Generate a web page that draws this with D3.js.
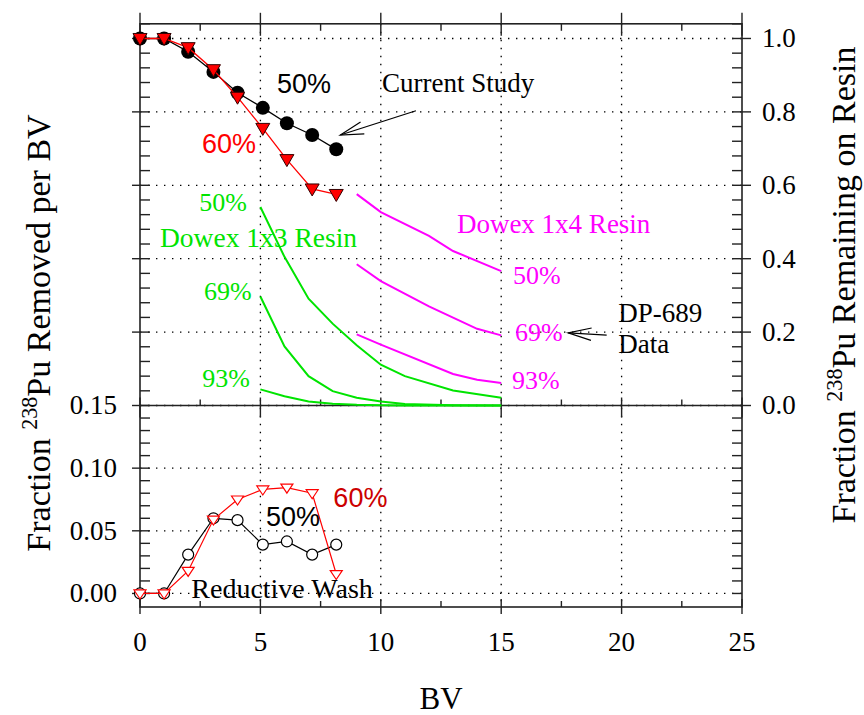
<!DOCTYPE html>
<html>
<head>
<meta charset="utf-8">
<script src="https://cdn.jsdelivr.net/npm/d3@7"></script>
<style>
  body { margin: 0; background: #fff; }
  svg { display: block; }
  text { font-family: "Liberation Serif", "Times New Roman", serif; fill: #000; }
  .sans { font-family: "Liberation Sans", Arial, sans-serif; }
</style>
</head>
<body>
<div id="chart"></div>
<script>
// Dados
const bv = [0, 1, 2, 3.05, 4.05, 5.1, 6.1, 7.15, 8.15];
const remain50 = [1.0, 1.0, 0.964, 0.909, 0.852, 0.811, 0.769, 0.737, 0.698];
const remain60 = [1.0, 1.0, 0.975, 0.915, 0.84, 0.755, 0.67, 0.59, 0.575];
const removed50 = [0.0, 0.0, 0.031, 0.060, 0.0585, 0.039, 0.0415, 0.031, 0.039];
const removed60 = [0.0, 0.0, 0.018, 0.059, 0.075, 0.083, 0.0845, 0.080, 0.0155];

const dowex13BV = [5, 6, 7, 8, 9, 10, 11, 13, 15];
const dowex13_50 = [0.541, 0.405, 0.291, 0.223, 0.164, 0.111, 0.080, 0.041, 0.021];
const dowex13_69 = [0.297, 0.161, 0.080, 0.039, 0.021, 0.011, 0.004, 0.001, 0.0];
const dowex13_93 = [0.044, 0.025, 0.011, 0.005, 0.002, 0.001, 0.0, 0.0, 0.0];

const dowex14_50BV = [9, 10, 12, 13, 15];
const dowex14_50 = [0.576, 0.527, 0.462, 0.421, 0.366];
const dowex14_69BV = [9, 10, 12, 14, 15];
const dowex14_69 = [0.385, 0.339, 0.270, 0.209, 0.191];
const dowex14_93BV = [9, 10, 13, 14, 15];
const dowex14_93 = [0.194, 0.166, 0.086, 0.070, 0.061];

const xTicks = [0, 5, 10, 15, 20, 25];
const rightTicks = [0, 0.2, 0.4, 0.6, 0.8, 1.0];
const leftTicks = [0, 0.05, 0.10, 0.15];

// Configurações
const width = 864, height = 715;
const svg = d3.select('#chart').append('svg')
    .attr('width', width).attr('height', height);

const x = d3.scaleLinear().domain([0, 25]).range([140, 742]);
const yTop = d3.scaleLinear().domain([0, 1.04]).range([405.5, 23.8]);
const yBot = d3.scaleLinear().domain([-0.0108, 0.15]).range([607, 405.5]);

const GREEN = '#00e400', MAGENTA = '#ff00ff', RED = '#ff0000';

// Grade pontilhada
const grid = svg.append('g').attr('stroke', '#000').attr('stroke-width', 1.3)
    .attr('stroke-dasharray', '1.4,6.6');
[5, 10, 15, 20].forEach(v => {
    grid.append('line').attr('x1', x(v)).attr('x2', x(v)).attr('y1', yTop(1.04)).attr('y2', yBot(-0.0108));
});
rightTicks.forEach(v => {
    grid.append('line').attr('x1', x(0)).attr('x2', x(25)).attr('y1', yTop(v)).attr('y2', yTop(v));
});
[0, 0.05, 0.10].forEach(v => {
    grid.append('line').attr('x1', x(0)).attr('x2', x(25)).attr('y1', yBot(v)).attr('y2', yBot(v));
});

// Moldura e divisor
const frame = svg.append('g').attr('stroke', '#222').attr('stroke-width', 1.6).attr('fill', 'none');
frame.append('rect').attr('x', x(0)).attr('y', yTop(1.04))
    .attr('width', x(25) - x(0)).attr('height', yBot(-0.0108) - yTop(1.04));
frame.append('line').attr('x1', x(0)).attr('x2', x(25)).attr('y1', yTop(0)).attr('y2', yTop(0));

// Marcas dos eixos
const ticks = svg.append('g').attr('stroke', '#222').attr('stroke-width', 1.4);
d3.range(0, 25.01, 2.5).forEach(v => {
    const major = v % 5 === 0;
    const X = x(v);
    // base
    ticks.append('line').attr('x1', X).attr('x2', X)
        .attr('y1', yBot(-0.0108) + (major ? 7 : 0)).attr('y2', yBot(-0.0108) - (major ? 8 : 6));
    // topo
    ticks.append('line').attr('x1', X).attr('x2', X)
        .attr('y1', yTop(1.04) - (major ? 11 : 0)).attr('y2', yTop(1.04) + (major ? 12 : 7));
    // divisor
    ticks.append('line').attr('x1', X).attr('x2', X)
        .attr('y1', yTop(0) - (major ? 8 : 6)).attr('y2', yTop(0) + (major ? 12 : 0));
});
d3.range(0, 1.041, 0.04).forEach(v => {
    const major = Math.abs(v * 5 - Math.round(v * 5)) < 1e-6;
    const Y = yTop(v);
    ticks.append('line').attr('x1', x(0) - (major ? 8 : 0)).attr('x2', x(0) + 10).attr('y1', Y).attr('y2', Y);
    ticks.append('line').attr('x1', x(25) - 10).attr('x2', x(25) + (major ? 9 : 0)).attr('y1', Y).attr('y2', Y);
});
d3.range(0, 0.1401, 0.01).forEach(v => {
    const major = Math.abs(v * 20 - Math.round(v * 20)) < 1e-6;
    const Y = yBot(v);
    ticks.append('line').attr('x1', x(0) - (major ? 8 : 0)).attr('x2', x(0) + 10).attr('y1', Y).attr('y2', Y);
    ticks.append('line').attr('x1', x(25) - 10).attr('x2', x(25)).attr('y1', Y).attr('y2', Y);
});

// Rótulos dos eixos
svg.append('g').selectAll('text').data(xTicks).enter().append('text')
    .attr('x', d => x(d)).attr('y', 651).attr('text-anchor', 'middle')
    .attr('font-size', 27).text(d => d);
svg.append('g').selectAll('text').data(rightTicks).enter().append('text')
    .attr('x', 762).attr('y', d => yTop(d)).attr('dy', '0.33em')
    .attr('font-size', 27).text(d => d.toFixed(1));
svg.append('g').selectAll('text').data(leftTicks).enter().append('text')
    .attr('x', 117).attr('y', d => yBot(d)).attr('dy', '0.33em').attr('text-anchor', 'end')
    .attr('font-size', 27).text(d => d.toFixed(2));

svg.append('text').attr('x', x(12.5)).attr('y', 709).attr('text-anchor', 'middle')
    .attr('font-size', 31).text('BV');

function titleY(tx, ty, size, rest) {
    const t = svg.append('text').attr('transform', `translate(${tx},${ty}) rotate(-90)`)
        .attr('text-anchor', 'middle').attr('font-size', size);
    t.append('tspan').text('Fraction ');
    t.append('tspan').attr('font-size', size * 0.65).attr('dy', -13).text('238');
    t.append('tspan').attr('dy', 13).text(rest);
}
titleY(50, 333, 34, 'Pu Removed per BV');
titleY(855, 285, 34, 'Pu Remaining on Resin');

// Linhas
const lineGen = d3.line().x(d => x(d[0]));
function drawLine(xs, ys, yScale, color, w) {
    svg.append('path').datum(xs.map((v, i) => [v, ys[i]]))
        .attr('fill', 'none').attr('stroke', color).attr('stroke-width', w)
        .attr('d', lineGen.y(d => yScale(d[1])));
}
drawLine(dowex13BV, dowex13_50, yTop, GREEN, 2);
drawLine(dowex13BV, dowex13_69, yTop, GREEN, 2);
drawLine(dowex13BV, dowex13_93, yTop, GREEN, 2);
drawLine(dowex14_50BV, dowex14_50, yTop, MAGENTA, 2);
drawLine(dowex14_69BV, dowex14_69, yTop, MAGENTA, 2);
drawLine(dowex14_93BV, dowex14_93, yTop, MAGENTA, 2);

// Estudo atual (painel superior)
drawLine(bv, remain50, yTop, '#000', 1.3);
svg.append('g').selectAll('circle').data(bv).enter().append('circle')
    .attr('cx', d => x(d)).attr('cy', (d, i) => yTop(remain50[i])).attr('r', 7).attr('fill', '#000');
drawLine(bv, remain60, yTop, RED, 1.3);
const triDown = (w, h1, h2) => `M${-w},${-h1}L${w},${-h1}L0,${h2}Z`;
svg.append('g').selectAll('path').data(bv).enter().append('path')
    .attr('transform', (d, i) => `translate(${x(d)},${yTop(remain60[i])})`)
    .attr('d', triDown(7, 5, 7)).attr('fill', RED).attr('stroke', '#300').attr('stroke-width', 1);

// Lavagem redutiva (painel inferior)
drawLine(bv, removed50, yBot, '#000', 1.2);
svg.append('g').selectAll('circle').data(bv).enter().append('circle')
    .attr('cx', d => x(d)).attr('cy', (d, i) => yBot(removed50[i])).attr('r', 5.5)
    .attr('fill', '#fff').attr('stroke', '#000').attr('stroke-width', 1.2);
drawLine(bv, removed60, yBot, RED, 1.2);
svg.append('g').selectAll('path').data(bv).enter().append('path')
    .attr('transform', (d, i) => `translate(${x(d)},${yBot(removed60[i])})`)
    .attr('d', triDown(6, 3.5, 5.5)).attr('fill', '#fff').attr('stroke', RED).attr('stroke-width', 1.2);

// Textos
function label(tx, ty, str, opts) {
    const t = svg.append('text').attr('x', tx).attr('y', ty)
        .attr('font-size', opts.size || 27).attr('text-anchor', opts.anchor || 'start')
        .style('fill', opts.color || '#000').text(str);
    if (opts.sans) t.attr('class', 'sans');
    return t;
}
label(x(5.69), yTop(0.851), '50%', { sans: true });
label(x(2.57), yTop(0.689), '60%', { sans: true, color: RED });
label(x(10.05), yTop(0.855), 'Current Study', {});
label(x(4.44), yTop(0.531), '50%', { anchor: 'end', color: GREEN, size: 26 });
label(x(0.83), yTop(0.433), 'Dowex 1x3 Resin', { color: GREEN, size: 27.5 });
label(x(4.64), yTop(0.287), '69%', { anchor: 'end', color: GREEN, size: 26 });
label(x(4.57), yTop(0.050), '93%', { anchor: 'end', color: GREEN, size: 26 });
label(x(13.16), yTop(0.469), 'Dowex 1x4 Resin', { color: MAGENTA });
label(x(15.49), yTop(0.331), '50%', { color: MAGENTA, size: 26 });
label(x(15.57), yTop(0.177), '69%', { color: MAGENTA, size: 26 });
label(x(15.45), yTop(0.044), '93%', { color: MAGENTA, size: 26 });
label(x(19.86), yTop(0.228), 'DP-689', {});
label(x(19.86), yTop(0.142), 'Data', {});
label(x(5.23), yBot(0.0539), '50%', { sans: true });
label(x(8.03), yBot(0.0693), '60%', { sans: true, color: '#cc0000' });
label(x(2.13), yBot(-0.0038), 'Reductive Wash', { size: 28 });

// Setas
function arrow(x1, y1, x2, y2) {
    const ang = Math.atan2(y2 - y1, x2 - x1);
    const len = 24, spread = 0.26;
    const g = svg.append('g').attr('stroke', '#000').attr('stroke-width', 1.2).attr('fill', 'none');
    g.append('line').attr('x1', x1).attr('y1', y1).attr('x2', x2).attr('y2', y2);
    g.append('path').attr('d', `M${x2 - len * Math.cos(ang - spread)},${y2 - len * Math.sin(ang - spread)}` +
        `L${x2},${y2}L${x2 - len * Math.cos(ang + spread)},${y2 - len * Math.sin(ang + spread)}`);
}
arrow(x(11.46), yTop(0.803), x(8.32), yTop(0.737));
arrow(x(19.38), yTop(0.192), x(17.78), yTop(0.198));
</script>
</body>
</html>
